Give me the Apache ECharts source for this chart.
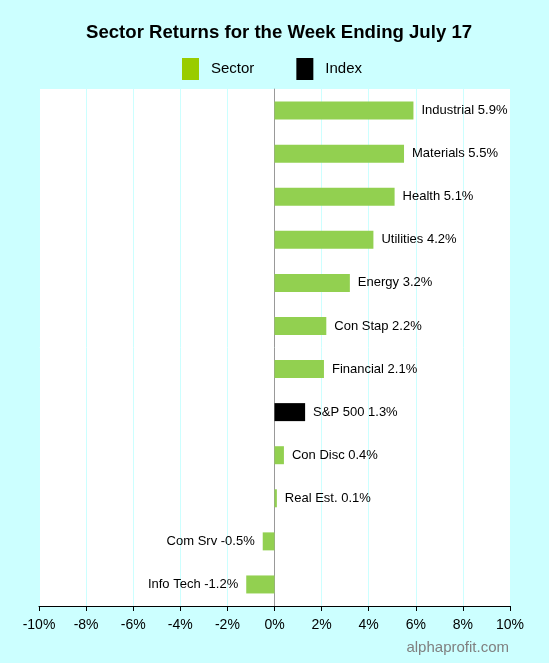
<!DOCTYPE html>
<html>
<head>
<meta charset="utf-8">
<script src="https://cdn.jsdelivr.net/npm/echarts@6/dist/echarts.min.js"></script>
<style>
html,body{margin:0;padding:0;background:#ccffff;}
#c{width:549px;height:663px;}
</style>
</head>
<body>
<div id="c"></div>
<script>
const categories = ['Industrial','Materials','Health','Utilities','Energy','Con Stap','Financial','S&P 500','Con Disc','Real Est.','Com Srv','Info Tech'];
const returns = [5.9, 5.5, 5.1, 4.2, 3.2, 2.2, 2.1, 1.3, 0.4, 0.1, -0.5, -1.2];
const indexName = 'S&P 500';
const tickMin = -10, tickMax = 10, tickStep = 2;

const sectorData = categories.map((c, i) => c === indexName ? '-' : returns[i]);
const indexData = categories.map((c, i) => c === indexName ? returns[i] : '-');

function lbl(v){ return {position: v < 0 ? 'left' : 'right'}; }
function mk(arr){
  return arr.map(v => v === '-' ? '-' : {value: v, label: lbl(v)});
}
const labelCfg = {
  show: true, distance: 8,
  fontFamily: 'Liberation Sans, Arial', fontSize: 13, color: '#000',
  formatter: p => p.name + ' ' + p.value.toFixed(1) + '%'
};

const chart = echarts.init(document.getElementById('c'), null, {renderer:'canvas'});
chart.setOption({
  backgroundColor: '#ccffff',
  animation: false,
  title: {
    text: 'Sector Returns for the Week Ending July 17',
    left: 81, top: 18,
    textStyle: {fontFamily: 'Liberation Sans, Arial', fontWeight: 'bold', fontSize: 18.6, color: '#000'}
  },
  legend: {
    top: 53, left: 177,
    itemWidth: 17, itemHeight: 22, itemGap: 42,
    textStyle: {fontFamily: 'Liberation Sans, Arial', fontSize: 15, color: '#000', padding: [0,0,0,7]},
    data: [
      {name: 'Sector', icon: 'rect', itemStyle: {color: '#99cc00'}},
      {name: 'Index', icon: 'rect', itemStyle: {color: '#000'}}
    ]
  },
  grid: {left: 39, right: 39, top: 89, bottom: 57, show: true, backgroundColor: '#fff', borderWidth: 0},
  xAxis: {
    type: 'value', min: tickMin, max: tickMax, interval: tickStep,
    axisLine: {show: true, lineStyle: {color: '#000', width: 1}},
    axisTick: {show: true, length: 5, lineStyle: {color: '#000'}},
    axisLabel: {formatter: '{value}%', fontFamily: 'Liberation Sans, Arial', fontSize: 14, color: '#000', margin: 12},
    splitLine: {show: true, lineStyle: {color: '#ccffff', width: 1}}
  },
  yAxis: {
    type: 'category', data: categories, inverse: true,
    axisLine: {show: true, onZero: true, lineStyle: {color: '#999', width: 1}},
    axisTick: {show: false},
    axisLabel: {show: false},
    splitLine: {show: false}
  },
  series: [
    {
      name: 'Sector', type: 'bar', barWidth: 18, barGap: '-100%',
      itemStyle: {color: '#92d050'},
      data: mk(sectorData),
      label: labelCfg
    },
    {
      name: 'Index', type: 'bar', barWidth: 18, barGap: '-100%',
      itemStyle: {color: '#000'},
      data: mk(indexData),
      label: labelCfg
    }
  ],
  graphic: [{
    type: 'text', right: 40, bottom: 8,
    style: {text: 'alphaprofit.com', fill: '#808080', font: '15px Liberation Sans, Arial'}
  }]
});
</script>
</body>
</html>
